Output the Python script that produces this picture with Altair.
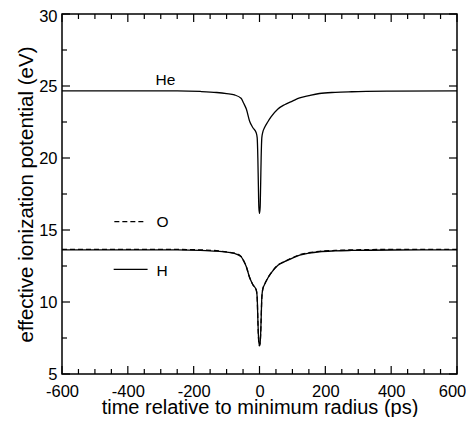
import altair as alt
import pandas as pd

# time grid (ps) and curve values (eV)
t = [-600, -400, -250, -180, -130, -100, -76, -56, -48, -40, -30, -20, -10, -7, -5, -3.5, -2, 0,
     2, 3.5, 5, 7, 10, 15, 25, 35, 56, 76, 100, 122, 150, 182, 230, 280, 400, 600]
he = [24.66, 24.66, 24.66, 24.62, 24.55, 24.47, 24.38, 24.15, 23.8, 23.4, 22.55, 22.1, 21.75, 21.4, 20.0, 18.2, 16.6, 16.15,
      16.6, 18.2, 20.0, 21.4, 21.8, 22.1, 22.5, 22.85, 23.4, 23.7, 23.95, 24.17, 24.33, 24.48, 24.56, 24.6, 24.64, 24.66]
h = [13.62, 13.62, 13.62, 13.59, 13.53, 13.46, 13.37, 13.15, 12.85, 12.45, 11.7, 11.2, 10.85, 10.3, 8.8, 7.8, 7.2, 7.0,
     7.2, 7.8, 8.8, 10.3, 10.9, 11.2, 11.65, 12.0, 12.55, 12.8, 13.05, 13.25, 13.39, 13.49, 13.55, 13.58, 13.61, 13.62]
o = [13.66, 13.66, 13.65, 13.62, 13.56, 13.48, 13.39, 13.16, 12.86, 12.45, 11.7, 11.2, 10.84, 10.28, 8.75, 7.75, 7.15, 6.95,
     7.15, 7.75, 8.75, 10.28, 10.9, 11.2, 11.66, 12.01, 12.57, 12.82, 13.07, 13.28, 13.42, 13.52, 13.58, 13.62, 13.65, 13.66]

x_major = [-600, -400, -200, 0, 200, 400, 600]
x_minor = [-550, -500, -450, -350, -300, -250, -150, -100, -50, 50, 100, 150, 250, 300, 350, 450, 500, 550]
y_major = [5, 10, 15, 20, 25, 30]
y_minor = [7.5, 12.5, 17.5, 22.5, 27.5]

# in-plot labels (key lines and texts)
key_names = ["O", "H"]
key_x1 = [-441, -443]
key_x2 = [-344, -340]
key_y = [15.58, 12.27]
key_text_x = [-313, -313]
key_text_y = [15.21, 11.8]
he_label = ["He"]
he_label_x = [-286]
he_label_y = [25.07]

FONT = "Liberation Sans"
W, H = 395, 360
XD = [-600, 600]
YD = [5, 30]

df = pd.concat([
    pd.DataFrame({"t": t, "v": he, "s": "He"}),
    pd.DataFrame({"t": t, "v": h, "s": "H"}),
])
df_o = pd.DataFrame({"t": t, "v": o, "s": "O"})

xs = alt.Scale(domain=XD, nice=False, zero=False)
ys = alt.Scale(domain=YD, nice=False, zero=False)

xaxis = alt.Axis(values=x_major, ticks=False, domain=False, grid=False, labelFontSize=16.5,
                 labelFont=FONT, labelColor="black", labelPadding=9, labelExpr="'' + datum.value",
                 labelOffset=alt.condition("datum.value == 600", alt.value(-5), alt.value(0)),
                 title="time relative to minimum radius (ps)",
                 titleFont=FONT, titleFontSize=20, titleFontWeight="normal", titleColor="black",
                 titleBaseline="alphabetic", titleY=39, labelFlush=False)
yaxis = alt.Axis(values=y_major, ticks=False, domain=False, grid=False, labelFontSize=16.5,
                 labelFont=FONT, labelColor="black", labelPadding=5, labelExpr="'' + datum.value",
                 labelOffset=alt.condition("datum.value == 30", alt.value(2), alt.value(0)),
                 title="effective ionization potential (eV)",
                 titleFont=FONT, titleFontSize=20.5, titleFontWeight="normal", titleColor="black",
                 titleBaseline="alphabetic", titleX=-30, labelFlush=False)


def X(f):
    return alt.X(f, scale=xs, axis=xaxis)


def Y(f):
    return alt.Y(f, scale=ys, axis=yaxis)


lines = alt.Chart(df).mark_line(color="black", strokeWidth=1.3, interpolate="monotone").encode(
    x=X("t:Q"), y=Y("v:Q"), detail="s:N",
)
line_o = alt.Chart(df_o).mark_line(color="black", strokeWidth=1.3, strokeDash=[5, 3], interpolate="monotone").encode(
    x=X("t:Q"), y=Y("v:Q"),
)

keydf = pd.DataFrame({"n": key_names, "x1": key_x1, "x2": key_x2, "y": key_y, "tx": key_text_x, "ty": key_text_y})
key_o = alt.Chart(keydf[keydf.n == "O"]).mark_rule(color="black", strokeWidth=1.3, strokeDash=[5, 3]).encode(
    x=X("x1:Q"), x2="x2:Q", y=Y("y:Q"))
key_h = alt.Chart(keydf[keydf.n == "H"]).mark_rule(color="black", strokeWidth=1.3).encode(
    x=X("x1:Q"), x2="x2:Q", y=Y("y:Q"))
key_txt = alt.Chart(keydf).mark_text(font=FONT, fontSize=15.5, align="left", baseline="alphabetic", color="black").encode(
    x=X("tx:Q"), y=Y("ty:Q"), text="n:N")
he_txt = alt.Chart(pd.DataFrame({"n": he_label, "x": he_label_x, "y": he_label_y})).mark_text(
    font=FONT, fontSize=15.5, align="center", baseline="alphabetic", color="black").encode(
    x=X("x:Q"), y=Y("y:Q"), text="n:N")


def xticks(vals, L):
    d = pd.DataFrame({"v": vals})
    b = alt.Chart(d).mark_rule(color="black", strokeWidth=1.2).encode(
        x=X("v:Q"), y=alt.value(H), y2=alt.value(H - L))
    tp = alt.Chart(d).mark_rule(color="black", strokeWidth=1.2).encode(
        x=X("v:Q"), y=alt.value(0), y2=alt.value(L))
    return [b, tp]


def yticks(vals, L):
    d = pd.DataFrame({"v": vals})
    lf = alt.Chart(d).mark_rule(color="black", strokeWidth=1.2).encode(
        y=Y("v:Q"), x=alt.value(0), x2=alt.value(L))
    rt = alt.Chart(d).mark_rule(color="black", strokeWidth=1.2).encode(
        y=Y("v:Q"), x=alt.value(W), x2=alt.value(W - L))
    return [lf, rt]


tick_layers = xticks(x_major, 8) + xticks(x_minor, 5) + yticks(y_major, 8) + yticks(y_minor, 5)

chart = alt.layer(lines, line_o, key_o, key_h, key_txt, he_txt, *tick_layers).properties(
    width=W, height=H,
    autosize=alt.AutoSizeParams(type="none"),
    padding={"left": 54, "top": 6, "right": 9, "bottom": 43},
    background="white",
).configure_view(stroke="black", strokeWidth=1.5)

chart.save("out.html", embed_options={"renderer": "svg", "actions": False})
